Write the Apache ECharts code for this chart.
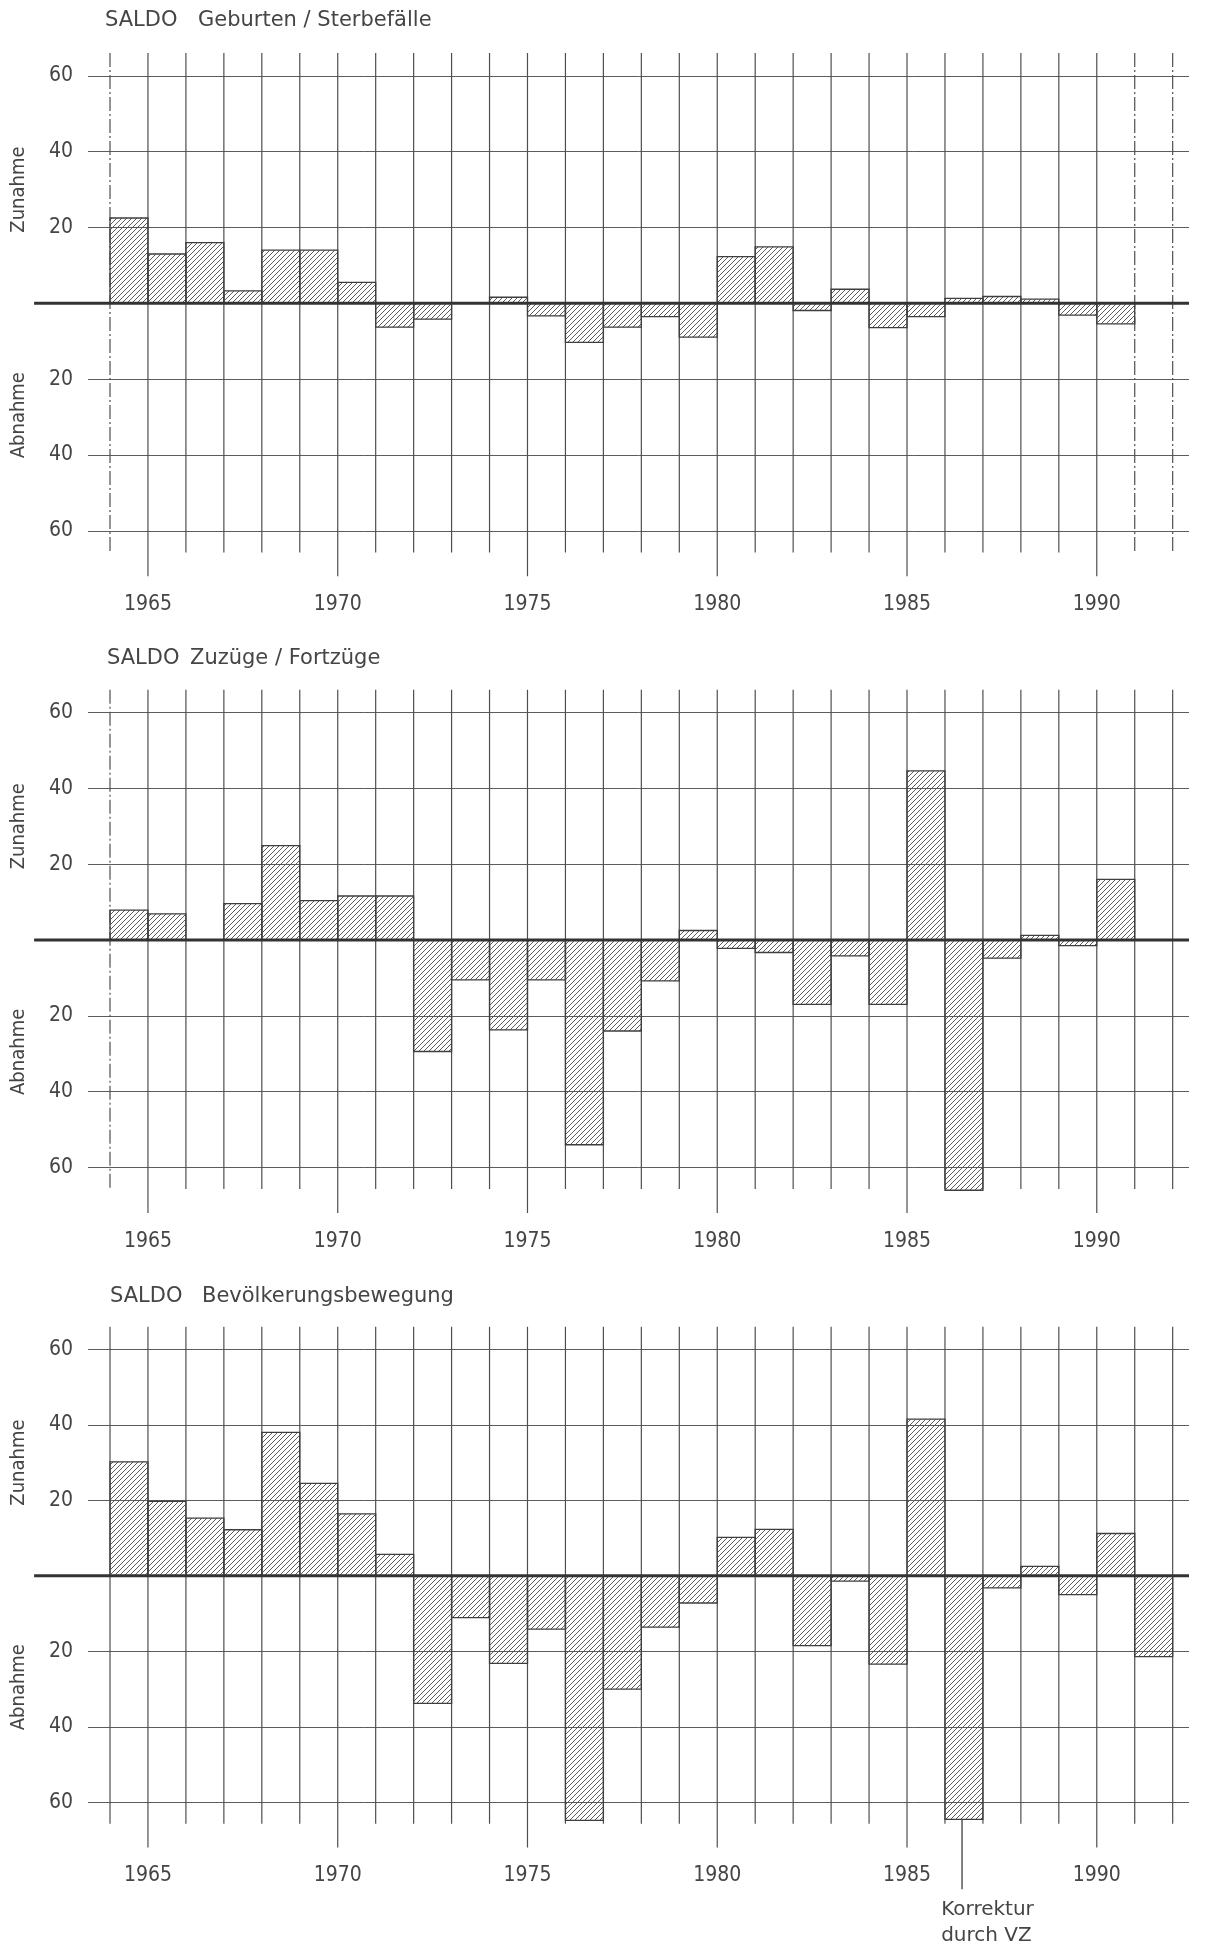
<!DOCTYPE html>
<html>
<head>
<meta charset="utf-8">
<script src="https://cdn.jsdelivr.net/npm/echarts@6/dist/echarts.min.js"></script>
<style>
html,body{margin:0;padding:0;background:#ffffff;}
#c{width:1206px;height:1950px;}
</style>
</head>
<body>
<div id="c"></div>
<script>
// ---------- data ----------
const years = [1964,1965,1966,1967,1968,1969,1970,1971,1972,1973,1974,1975,1976,1977,1978,1979,1980,1981,1982,1983,1984,1985,1986,1987,1988,1989,1990,1991];
const saldoGeburten = [22.5,13,16,3.3,14,14,5.5,-6.3,-4.2,null,1.6,-3.3,-10.3,-6.3,-3.5,-8.9,12.3,14.9,-1.9,3.7,-6.4,-3.5,1.3,1.8,1.1,-3.1,-5.4,null];
const saldoWanderung = [7.9,6.9,null,9.6,24.9,10.4,11.6,11.6,-29.4,-10.5,-23.7,-10.5,-54,-24,-10.8,2.5,-2.2,-3.3,-17,-4.2,-17,44.6,-66,-4.8,1.2,-1.5,16,null];
const saldoBevoelkerung = [30.2,19.7,15.3,12.2,38,24.5,16.4,5.7,-33.8,-11.1,-23.2,-14.1,-64.8,-30,-13.6,-7.2,10.2,12.3,-18.5,-1.4,-23.4,41.5,-64.5,-3.2,2.5,-5,11.2,-21.4];
const gridYears = [1964,1965,1966,1967,1968,1969,1970,1971,1972,1973,1974,1975,1976,1977,1978,1979,1980,1981,1982,1983,1984,1985,1986,1987,1988,1989,1990,1991,1992];
const labelYears = [1965,1970,1975,1980,1985,1990];
const titlePrefix = 'SALDO';
const titleSubjects = ['Geburten / Sterbefälle','Zuzüge / Fortzüge','Bevölkerungsbewegung'];
const sideLabels = ['Zunahme','Abnahme'];
const annotationLines = ['Korrektur','durch VZ'];
const annotationYear = 1986.45;

// ---------- style / layout ----------
const FONT = '"DejaVu Sans Condensed","Liberation Sans Narrow","DejaVu Sans",sans-serif';
const TFONT = '"DejaVu Sans","Liberation Sans",sans-serif';
const INK = '#454545';
const GRID_LEFT = 88, GRID_WIDTH = 1101;
const X_MIN = 1963.42, X_MAX = 1992.43;
const panels = [
  {top: 75.8, height: 455, titleY: 21, prefixX: 105, subjectX: 198, values: saldoGeburten},
  {top: 712.5, height: 455, titleY: 659, prefixX: 107, subjectX: 190, values: saldoWanderung},
  {top: 1349.3, height: 453, titleY: 1297, prefixX: 110, subjectX: 202, values: saldoBevoelkerung}
];

// hatch pattern
const tile = document.createElement('canvas');
const S = 5;
tile.width = S; tile.height = S;
(function(){
  const ctx = tile.getContext('2d');
  ctx.strokeStyle = '#4a4a4a';
  ctx.lineWidth = 0.9;
  ctx.beginPath();
  ctx.moveTo(0,S); ctx.lineTo(S,0);
  ctx.moveTo(-1,1); ctx.lineTo(1,-1);
  ctx.moveTo(S-1,S+1); ctx.lineTo(S+1,S-1);
  ctx.stroke();
})();
const hatch = {image: tile, repeat: 'repeat'};

const chart = echarts.init(document.getElementById('c'), null, {renderer:'canvas'});

const grids = [], xAxes = [], yAxes = [], series = [], graphics = [];

panels.forEach((p, k) => {
  grids.push({left: GRID_LEFT, width: GRID_WIDTH, top: p.top, height: p.height, containLabel: false});
  xAxes.push({type:'value', gridIndex:k, min:X_MIN, max:X_MAX, show:false, splitLine:{show:false}});
  yAxes.push({
    type:'value', gridIndex:k, min:-60, max:60, interval:20,
    axisLine:{show:false}, axisTick:{show:false},
    splitLine:{show:true, lineStyle:{color:'#5c5c5c', width:1}},
    axisLabel:{margin:15, color:INK, fontSize:21, fontFamily:FONT,
      formatter: v => v === 0 ? '' : String(Math.abs(v))}
  });

  // vertical grid lines
  series.push({
    type:'custom', xAxisIndex:k, yAxisIndex:k, clip:false, silent:true, z:1,
    data: gridYears.map(y => [y, y % 5 === 0 ? 1 : 0]),
    encode:{x:0, y:1},
    renderItem: (params, api) => {
      const yr = api.value(0);
      const long = api.value(1) === 1;
      const a = api.coord([yr, 66]);
      const b = api.coord([yr, long ? -72 : -65.7]);
      const dashed = (yr === 1964 && k < 2) || (k === 0 && yr >= 1991);
      return {type:'line', shape:{x1:a[0], y1:a[1], x2:b[0], y2:b[1]},
        style:{stroke:'#4f4f4f', lineWidth:1.2, lineDash: dashed ? [14,3,2,3] : null}};
    }
  });

  // bars
  series.push({
    type:'custom', xAxisIndex:k, yAxisIndex:k, clip:false, z:3,
    data: years.map((y,i) => [y, p.values[i]]).filter(d => d[1] !== null),
    encode:{x:0, y:1},
    renderItem: (params, api) => {
      const x0 = api.value(0), v = api.value(1);
      const a = api.coord([x0, 0]);
      const b = api.coord([x0 + 1, v]);
      return {type:'rect',
        shape:{x:a[0], y:Math.min(a[1], b[1]), width:b[0]-a[0], height:Math.abs(b[1]-a[1])},
        style:{fill:hatch, stroke:'#3e3e3e', lineWidth:1.3}};
    }
  });

  // zero line
  series.push({
    type:'custom', xAxisIndex:k, yAxisIndex:k, clip:false, silent:true, z:4,
    data:[[1962.0, 0]], encode:{x:0, y:1},
    renderItem: (params, api) => {
      const a = api.coord([api.value(0), 0]);
      const b = api.coord([X_MAX, 0]);
      return {type:'line', shape:{x1:a[0], y1:a[1], x2:b[0], y2:b[1]},
        style:{stroke:'#333', lineWidth:3}};
    }
  });

  // year labels
  series.push({
    type:'custom', xAxisIndex:k, yAxisIndex:k, clip:false, silent:true, z:4,
    data: labelYears.map(y => [y, -79.5]), encode:{x:0, y:1},
    renderItem: (params, api) => {
      const a = api.coord([api.value(0), api.value(1)]);
      return {type:'text', x:a[0], y:a[1],
        style:{text:String(api.value(0)), textAlign:'center', textVerticalAlign:'middle',
          font:'21px ' + FONT, fill:INK}};
    }
  });

  // side labels (Zunahme / Abnahme)
  series.push({
    type:'custom', xAxisIndex:k, yAxisIndex:k, clip:false, silent:true, z:4,
    data: [[1961.6, 30, 0], [1961.6, -29.5, 1]], encode:{x:0, y:1},
    renderItem: (params, api) => {
      const a = api.coord([api.value(0), api.value(1)]);
      return {type:'text', x:a[0], y:a[1], rotation:Math.PI/2,
        style:{text:sideLabels[api.value(2)], textAlign:'center', textVerticalAlign:'middle',
          font:'20px ' + FONT, fill:INK}};
    }
  });

  graphics.push({type:'text', x:p.prefixX, y:p.titleY,
    style:{text:titlePrefix, font:'21px ' + TFONT, fill:INK, textVerticalAlign:'middle'}});
  graphics.push({type:'text', x:p.subjectX, y:p.titleY,
    style:{text:titleSubjects[k], font:'21px ' + TFONT, fill:INK, textVerticalAlign:'middle'}});
});

// annotation in bottom panel
series.push({
  type:'custom', xAxisIndex:2, yAxisIndex:2, clip:false, silent:true, z:5,
  data:[[annotationYear, -64.5, -83]], encode:{x:0, y:1},
  renderItem: (params, api) => {
    const a = api.coord([api.value(0), api.value(1)]);
    const b = api.coord([api.value(0), api.value(2)]);
    const t = api.coord([api.value(0) - 0.55, -88.5]);
    return {type:'group', children:[
      {type:'line', shape:{x1:a[0], y1:a[1], x2:b[0], y2:b[1]}, style:{stroke:'#3e3e3e', lineWidth:1.3}},
      {type:'text', x:t[0], y:t[1], style:{text:annotationLines[0], textAlign:'left', textVerticalAlign:'middle', font:'20px ' + TFONT, fill:INK}},
      {type:'text', x:t[0], y:t[1] + 26, style:{text:annotationLines[1], textAlign:'left', textVerticalAlign:'middle', font:'20px ' + TFONT, fill:INK}}
    ]};
  }
});

chart.setOption({
  animation:false,
  backgroundColor:'#ffffff',
  grid:grids, xAxis:xAxes, yAxis:yAxes, series:series, graphic:graphics
});
</script>
</body>
</html>
